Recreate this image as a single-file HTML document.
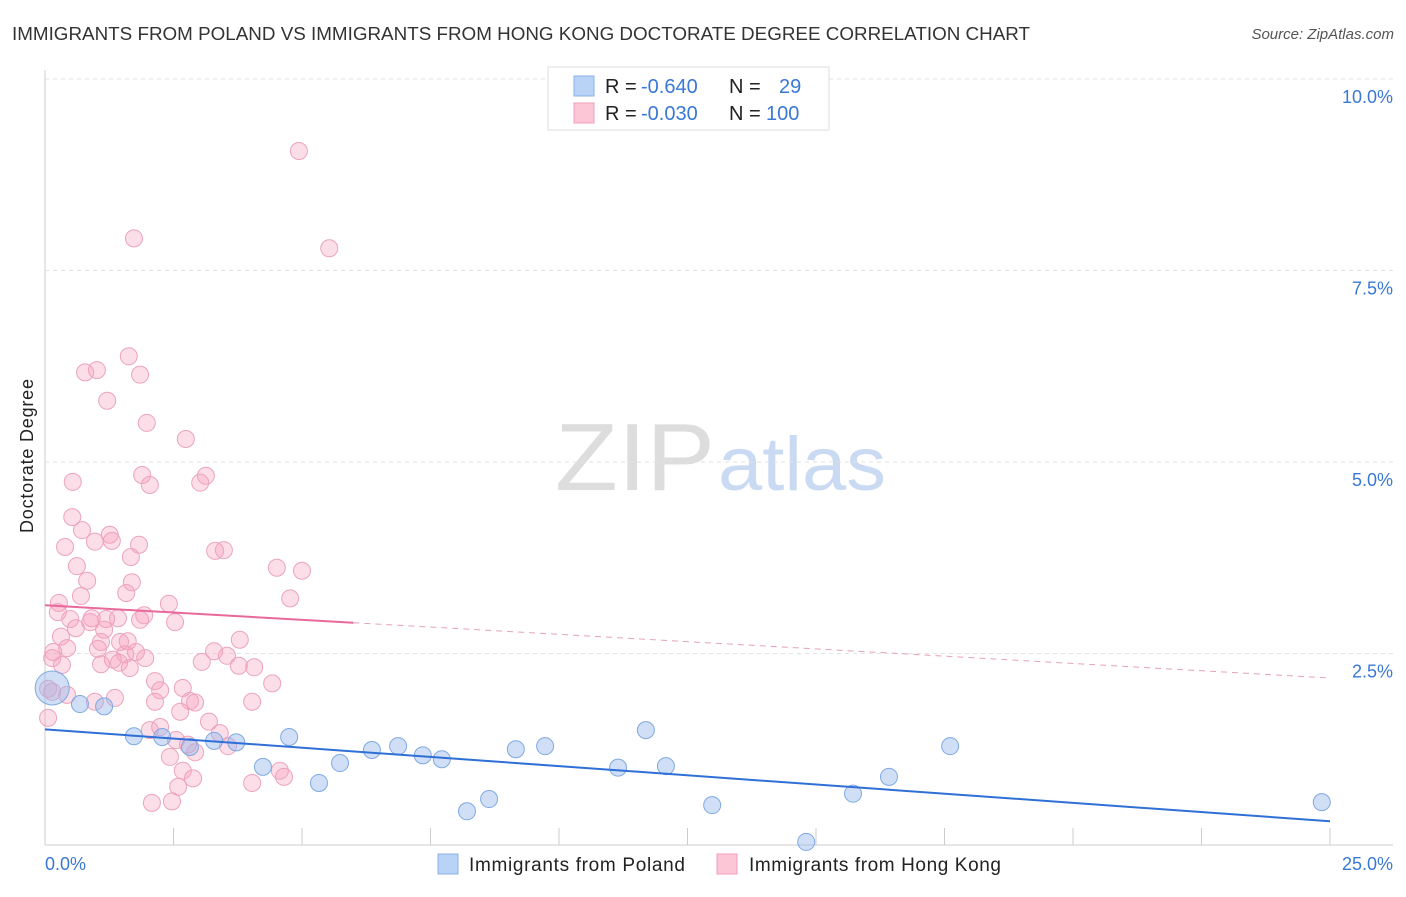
<!DOCTYPE html>
<html><head><meta charset="utf-8"><style>
body{margin:0;background:#fff;font-family:"Liberation Sans",sans-serif;}
svg text{font-family:"Liberation Sans",sans-serif;}
</style></head><body>
<svg id="chart" width="1406" height="892" xmlns="http://www.w3.org/2000/svg">
<text x="12" y="40" font-size="18" fill="#333" textLength="1018" lengthAdjust="spacingAndGlyphs">IMMIGRANTS FROM POLAND VS IMMIGRANTS FROM HONG KONG DOCTORATE DEGREE CORRELATION CHART</text>
<text x="1394" y="39" font-size="15" fill="#555" font-style="italic" text-anchor="end">Source: ZipAtlas.com</text>
<text x="0" y="0" transform="translate(33,456) rotate(-90)" font-size="18" fill="#222" text-anchor="middle" textLength="154">Doctorate Degree</text>
<g>
<text x="555" y="490" font-size="96" fill="#ddd" font-family="Liberation Serif,serif" textLength="160" lengthAdjust="spacingAndGlyphs">ZIP</text>
<text x="718" y="490" font-size="76" fill="#c9daf2" textLength="168" lengthAdjust="spacingAndGlyphs">atlas</text>
</g>
<g id="grid"></g><g id="pts"></g><g id="lines"></g>
<g>
<rect x="548" y="67" width="281" height="63" fill="#fff" stroke="#ddd"/>
<rect x="574" y="76" width="20" height="20" fill="#b8d3f5" stroke="#8ab2e8"/>
<rect x="574" y="103" width="20" height="20" fill="#fcc6d6" stroke="#f1a0bb"/>
<text x="605" y="93" font-size="20" fill="#222">R = <tspan fill="#3a78d6" x="641">-0.640</tspan></text>
<text x="729" y="93" font-size="20" fill="#222">N = <tspan fill="#3a78d6" x="779">29</tspan></text>
<text x="605" y="120" font-size="20" fill="#222">R = <tspan fill="#3a78d6" x="641">-0.030</tspan></text>
<text x="729" y="120" font-size="20" fill="#222">N = <tspan fill="#3a78d6" x="766">100</tspan></text>
</g>
<g>
<rect x="438" y="854" width="20" height="20" fill="#b8d3f5" stroke="#8ab2e8"/>
<text x="469" y="871" font-size="19" fill="#222" textLength="216">Immigrants from Poland</text>
<rect x="717" y="854" width="20" height="20" fill="#fcc6d6" stroke="#f1a0bb"/>
<text x="749" y="871" font-size="19" fill="#222" textLength="252">Immigrants from Hong Kong</text>
</g>
</svg>
<script>
const xTicks=[0,2.5,5,7.5,10,12.5,15,17.5,20,22.5,25];
const yTicks=[2.5,5.0,7.5,10.0];
const polandX=[0.14,0.68,1.15,1.73,2.28,2.82,3.29,3.72,4.24,4.75,5.33,5.74,6.36,6.87,7.35,7.72,8.21,8.64,9.16,9.73,11.15,11.69,12.08,12.98,14.81,15.72,16.42,17.61,24.84];
const polandY=[2.05,1.84,1.81,1.42,1.41,1.28,1.36,1.34,1.02,1.41,0.81,1.07,1.24,1.29,1.17,1.12,0.44,0.60,1.25,1.29,1.01,1.50,1.03,0.52,0.04,0.67,0.89,1.29,0.56];
const hkX=[4.94,1.73,5.53,1.63,0.78,1.01,1.85,1.21,1.98,2.74,0.54,1.89,2.04,3.13,3.02,0.53,0.72,1.26,0.97,1.30,0.39,1.83,1.67,3.31,3.48,0.62,4.51,5.00,0.82,1.69,0.70,1.58,4.77,0.27,0.25,2.41,1.93,0.49,0.91,1.19,0.88,2.53,0.60,1.15,0.31,1.61,1.09,1.46,1.03,0.43,0.16,3.29,1.77,1.56,1.32,1.44,1.95,0.14,3.54,3.05,3.77,4.07,1.09,2.14,4.42,2.68,0.06,0.14,0.43,0.97,1.36,2.14,2.82,2.92,4.03,0.06,2.63,3.19,2.04,2.24,2.55,3.40,2.78,3.56,2.92,2.43,2.68,4.57,2.88,4.03,4.65,2.59,2.08,2.47,1.85,1.42,2.24,3.79,1.65,0.33];
const hkY=[9.06,7.92,7.79,6.38,6.17,6.20,6.14,5.80,5.51,5.30,4.74,4.83,4.70,4.82,4.73,4.28,4.11,4.05,3.96,3.97,3.89,3.92,3.76,3.84,3.85,3.64,3.62,3.58,3.45,3.43,3.25,3.29,3.22,3.16,3.04,3.15,3.00,2.95,2.96,2.95,2.91,2.91,2.83,2.81,2.72,2.66,2.65,2.65,2.56,2.57,2.52,2.53,2.52,2.49,2.42,2.38,2.44,2.44,2.47,2.39,2.34,2.32,2.36,2.14,2.11,2.05,2.04,2.00,1.96,1.87,1.92,1.87,1.88,1.86,1.87,1.66,1.74,1.61,1.50,1.54,1.37,1.46,1.31,1.29,1.21,1.15,0.97,0.97,0.87,0.81,0.89,0.76,0.55,0.57,2.94,2.96,2.02,2.68,2.31,2.35];
const polandTrend=[1.51,0.31];
const hkTrend=[3.13,2.18];
const X=v=>45+v*51.4, Y=v=>845-v*76.6;
const NS="http://www.w3.org/2000/svg";
function mk(t,a,p){const e=document.createElementNS(NS,t);for(const k in a)e.setAttribute(k,a[k]);p.appendChild(e);return e;}
const grid=document.getElementById('grid'),pts=document.getElementById('pts'),lines=document.getElementById('lines');
mk('line',{x1:45,y1:70,x2:45,y2:845,stroke:'#ccc'},grid);
mk('line',{x1:45,y1:845,x2:1393,y2:845,stroke:'#ccc'},grid);
yTicks.forEach(t=>{
 const l=mk('line',{x1:45,y1:Y(t),x2:1393,y2:Y(t),stroke:'#e2e2e2','stroke-dasharray':'4,4'},grid);
 
 
 const tx=mk('text',{x:1393,y:Y(t)+24,'font-size':18,fill:'#3a78d6','text-anchor':'end'},grid);
 tx.textContent=t.toFixed(1)+'%';
 
 
});
xTicks.forEach((t,i)=>{
 if(i>0){const l=mk('line',{x1:X(t),y1:828,x2:X(t),y2:845,stroke:'#ccc'},grid);
 
 }
});
[[0,'start',45],[25,'end',1393]].forEach(([v,a,x])=>{
 const tx=mk('text',{x:x,y:870,'font-size':18,fill:'#3a78d6','text-anchor':a},grid);
 tx.textContent=v.toFixed(1)+'%';
 
 
});
hkX.forEach((x,i)=>{
 const c=mk('circle',{cx:X(x),cy:Y(hkY[i]),r:8.5,fill:'rgba(246,160,190,0.35)',stroke:'#eca3bd','stroke-width':1},pts);
 
 
});
polandX.forEach((x,i)=>{
 const c=mk('circle',{cx:X(x),cy:Y(polandY[i]),r:i===0?17:8.5,fill:'rgba(150,185,235,0.45)',stroke:'#7fa9e2','stroke-width':1},pts);
 
 
});
const pl=mk('line',{x1:X(0),y1:Y(polandTrend[0]),x2:X(25),y2:Y(polandTrend[1]),stroke:'#2f6fd6','stroke-width':2},lines);


const hy=v=>hkTrend[0]+(hkTrend[1]-hkTrend[0])*v/25;
const h1=mk('line',{x1:X(0),y1:Y(hkTrend[0]),x2:X(6),y2:Y(hy(6)),stroke:'#e8699a','stroke-width':2},lines);


const h2=mk('line',{x1:X(6),y1:Y(hy(6)),x2:X(25),y2:Y(hkTrend[1]),stroke:'#e8a0ba','stroke-width':1,'stroke-dasharray':'6,5'},lines);


</script>
</body></html>
